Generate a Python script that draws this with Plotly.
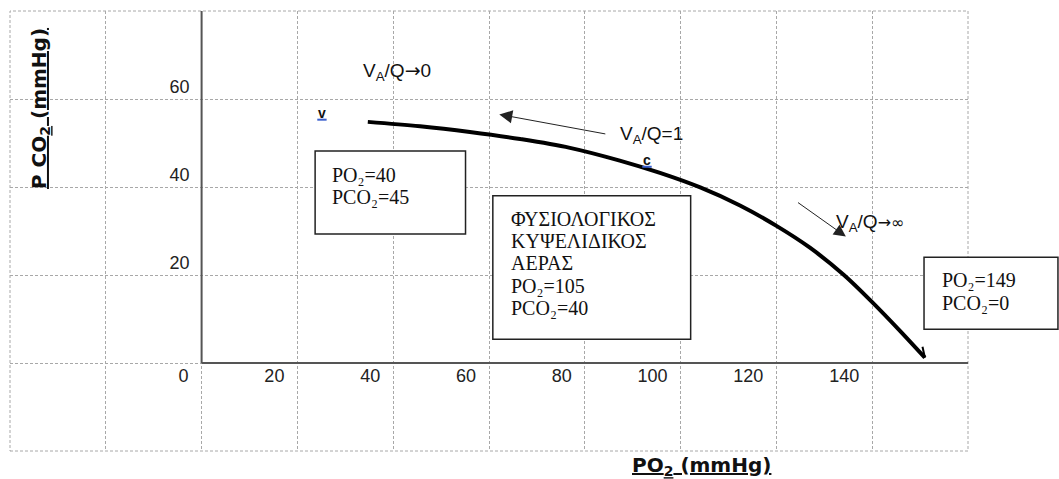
import plotly.graph_objects as go

# ---- data ----
curve_po2 = [34.7, 45.6, 56.0, 66.5, 76.9, 87.3, 95.7, 104.1, 112.4, 120.1, 127.0, 134.1, 140.2, 145.8, 151.0]
curve_pco2 = [54.8, 53.8, 52.5, 50.9, 48.9, 46.0, 43.2, 39.9, 35.8, 31.1, 26.2, 20.0, 13.6, 7.3, 1.2]
end_tick_po2 = [151.0, 150.5]
end_tick_pco2 = [1.2, 3.7]

x_tick_vals = [-40, -20, 0, 20, 40, 60, 80, 100, 120, 140, 160]
x_tick_text = ["", "", "0", "20", "40", "60", "80", "100", "120", "140", ""]
y_tick_vals = [-20, 0, 20, 40, 60, 80]
y_tick_text = ["", "", "20", "40", "60", ""]

box_venous = ["PO₂=40", "PCO₂=45"]
box_alveolar = ["ΦΥΣΙΟΛΟΓΙΚΟΣ", "ΚΥΨΕΛΙΔΙΚΟΣ", "ΑΕΡΑΣ", "PO₂=105", "PCO₂=40"]
box_inspired = ["PO₂=149", "PCO₂=0"]

SANS = "Liberation Sans, Arial, sans-serif"
SERIF = "Liberation Serif, Times New Roman, serif"
TITLE = "DejaVu Sans, Liberation Sans, sans-serif"
GRID = "#a8a8a8"
DASH = "3px,2px"
ARROW = '<span style="font-family:DejaVu Sans">→</span>'
ARROW_INF = '<span style="font-family:DejaVu Sans;font-size:16px">→∞</span>'

fig = go.Figure()
fig.add_trace(go.Scatter(
    x=curve_po2, y=curve_pco2, mode="lines", line_shape="spline",
    line=dict(color="black", width=4, smoothing=1.0), hoverinfo="skip", showlegend=False,
))
fig.add_trace(go.Scatter(
    x=end_tick_po2, y=end_tick_pco2, mode="lines",
    line=dict(color="black", width=2), hoverinfo="skip", showlegend=False,
))

fig.update_layout(
    width=1059, height=479,
    margin=dict(l=10, r=91, t=11, b=28),
    paper_bgcolor="white", plot_bgcolor="white",
    showlegend=False,
    xaxis=dict(
        range=[-40, 160], tickmode="array", tickvals=x_tick_vals, ticktext=x_tick_text,
        anchor="free", position=0.2, showline=False, zeroline=False, ticks="",
        ticklabelposition="outside left", ticklabelshift=-13,
        showgrid=True, gridcolor=GRID, griddash=DASH, gridwidth=1,
        tickfont=dict(family=SANS, size=18, color="#222"), fixedrange=True,
    ),
    yaxis=dict(
        range=[-20, 80], tickmode="array", tickvals=y_tick_vals, ticktext=y_tick_text,
        anchor="free", position=0.2, showline=False, zeroline=False, ticks="",
        ticklabelposition="outside top", ticklabelstandoff=12,
        showgrid=True, gridcolor=GRID, griddash=DASH, gridwidth=1,
        tickfont=dict(family=SANS, size=18, color="#222"), fixedrange=True,
    ),
)

shapes = []
# table border
shapes.append(dict(type="rect", xref="paper", yref="paper", x0=0, y0=0, x1=1, y1=1,
                   line=dict(color=GRID, width=1, dash=DASH), layer="below"))
# axes lines
shapes.append(dict(type="line", xref="x", yref="y", x0=0, y0=0, x1=0, y1=80,
                   line=dict(color="#555", width=2)))
shapes.append(dict(type="line", xref="x", yref="y", x0=0, y0=0, x1=160, y1=0,
                   line=dict(color="#555", width=2)))
# boxes
shapes.append(dict(type="rect", xref="x", yref="y", x0=23.7, x1=55.1, y0=29.3, y1=48.2,
                   line=dict(color="#222", width=1.5), fillcolor="white", layer="above"))
shapes.append(dict(type="rect", xref="x", yref="y", x0=60.8, x1=102.1, y0=5.4, y1=38.0,
                   line=dict(color="#222", width=1.5), fillcolor="white", layer="above"))
shapes.append(dict(type="rect", xref="paper", yref="paper", x0=0.9541, x1=1.0939, y0=0.2766, y1=0.4402,
                   line=dict(color="#222", width=1.5), fillcolor="white", layer="above"))
# blue underlines for v and c
shapes.append(dict(type="line", xref="x", yref="y", x0=24.15, x1=26.1, y0=55.3, y1=55.3,
                   line=dict(color="#3a5fcd", width=2)))
shapes.append(dict(type="line", xref="x", yref="y", x0=92.0, x1=93.97, y0=44.6, y1=44.6,
                   line=dict(color="#3a5fcd", width=2)))
fig.update_layout(shapes=shapes)

ann = []
def txt(x, y, text, size=18, family=SANS, xanchor="left", **kw):
    d = dict(x=x, y=y, xref="x", yref="y", text=text, showarrow=False, borderpad=0,
             xanchor=xanchor, yanchor="middle", font=dict(family=family, size=size, color="#111"))
    d.update(kw)
    ann.append(d)

# box texts
for t, yy in zip(box_venous, [42.7, 37.7]):
    txt(27.0, yy, t, family=SERIF, size=20)
for t, yy in zip(box_alveolar, [32.7, 27.7, 22.7, 17.5, 12.5]):
    txt(64.4, yy, t, family=SERIF, size=20)
for t, yy in zip(box_inspired, [18.9, 13.6]):
    txt(154.4, yy, t, family=SERIF, size=20)

# V/Q labels
txt(33.4, 66.2, "V<sub>A</sub>/Q" + ARROW + "0", size=19)
txt(87.1, 51.8, "V<sub>A</sub>/Q=1", size=19)
txt(132.2, 31.75, "V<sub>A</sub>/Q" + ARROW_INF, size=19)
# point labels
txt(25.15, 56.9, "<b>v</b>", size=14, xanchor="center")
txt(93.0, 46.2, "<b>c</b>", size=14, xanchor="center")

# arrows
ann.append(dict(x=62.15, y=56.5, ax=84.6, ay=52.0, xref="x", yref="y", axref="x", ayref="y",
                text="", showarrow=True, arrowhead=2, arrowsize=2.6, arrowwidth=1, arrowcolor="#222"))
ann.append(dict(x=134.5, y=28.75, ax=124.2, ay=36.7, xref="x", yref="y", axref="x", ayref="y",
                text="", showarrow=True, arrowhead=2, arrowsize=2.4, arrowwidth=1, arrowcolor="#222"))

# axis titles
ann.append(dict(x=0.0313, y=0.7795, xref="paper", yref="paper", showarrow=False, textangle=-90,
                text="<b><u>P CO<sub>2</sub> (mmHg)</u></b>", xanchor="center", yanchor="middle",
                font=dict(family=TITLE, size=20, color="#111")))
ann.append(dict(x=0.722, y=-0.033, xref="paper", yref="paper", showarrow=False,
                text="<b><u>PO<sub>2</sub> (mmHg)</u></b>", xanchor="center", yanchor="middle",
                font=dict(family=TITLE, size=20, color="#111")))
fig.update_layout(annotations=ann)

fig.write_html("out.html")
